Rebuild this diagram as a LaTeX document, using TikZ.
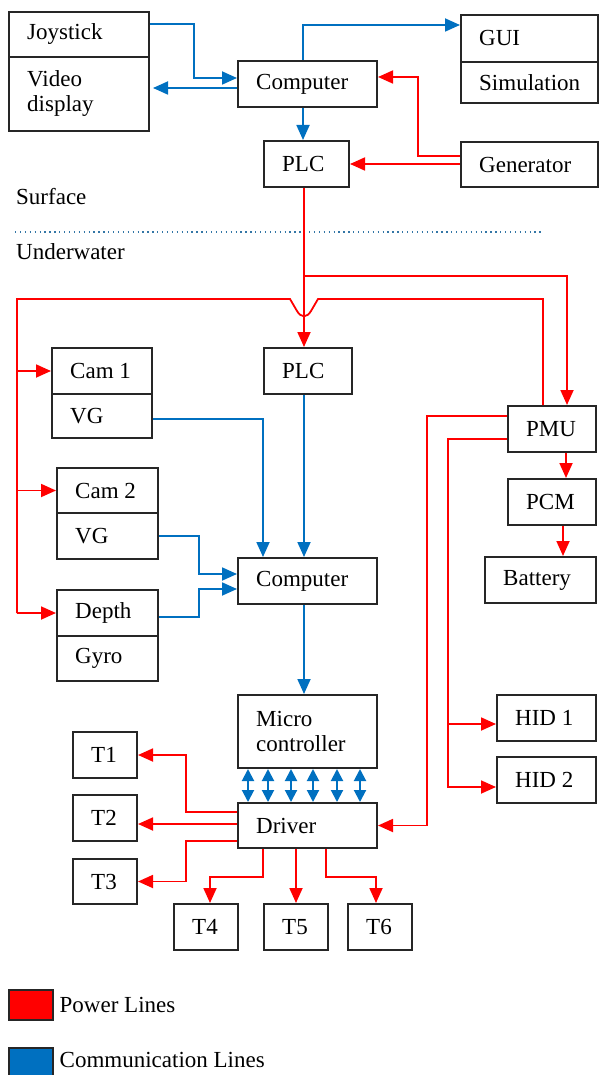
\documentclass[tikz,border=0pt]{standalone}
\usepackage{fontspec}
\setmainfont{Liberation Serif}
\newfontfamily\dserif{Liberation Serif}
\usetikzlibrary{arrows.meta}
\definecolor{cblue}{RGB}{0,112,192}
\definecolor{pred}{RGB}{255,0,0}
\newcommand{\mybox}[6]{%
  \node[box, minimum width=#4pt, minimum height=#5pt] (#1) at (#2,#3) {};
  \node[lbl] (#1-t) at ([xshift=19pt]#1.west) {#6};}
\begin{document}
\begin{tikzpicture}[x=1pt,y=-1pt,
  box/.style={draw=black!85, line width=2pt, anchor=north west, inner sep=0pt},
  lbl/.style={anchor=west, inner sep=0pt, align=left, font=\dserif\fontsize{23}{25}\selectfont},
  comm/.style={draw=cblue, line width=1.8pt, -{Triangle[length=15pt,width=13pt]}},
  power/.style={draw=pred, line width=1.8pt, -{Triangle[length=15pt,width=13pt]}},
  dbl/.style={draw=cblue, line width=2pt, {Triangle[length=12pt,width=12pt]}-{Triangle[length=12pt,width=12pt]}},
]
\useasboundingbox (0,0) rectangle (598,1075);

% ---- surface ----
\mybox{joy}{8}{11}{140}{45}{Joystick}
\mybox{vid}{8}{56}{140}{74}{Video\\display}
\mybox{comp1}{237}{60}{139}{46}{Computer}
\mybox{gui}{460}{14}{137}{47}{GUI}
\mybox{sim}{460}{61}{137}{41}{Simulation}
\mybox{plc1}{263}{140}{85}{46}{PLC}
\mybox{gen}{460}{141}{137}{45}{Generator}

\node[lbl] (surf) at (16,197) {Surface};
\node[lbl] (uw) at (16,252) {Underwater};
\draw[cblue!60!gray, line width=1.3pt, dash pattern=on 1.3pt off 3.6pt] (15,232) -- (544,232);

% ---- underwater ----
\mybox{plc2}{263}{347}{88}{46}{PLC}
\mybox{cam1}{51}{347}{100}{46}{Cam 1}
\mybox{vg1}{51}{393}{100}{44}{VG}
\mybox{cam2}{56}{467}{101}{45}{Cam 2}
\mybox{vg2}{56}{512}{101}{46}{VG}
\mybox{depth}{56}{589}{101}{46}{Depth}
\mybox{gyro}{56}{635}{101}{45}{Gyro}
\mybox{comp2}{237}{557}{139}{46}{Computer}
\mybox{pmu}{507}{405}{88}{46}{PMU}
\mybox{pcm}{507}{478}{88}{46}{PCM}
\mybox{bat}{484}{556}{111}{46}{Battery}
\mybox{hid1}{496}{694}{99}{46}{HID 1}
\mybox{hid2}{496}{756}{99}{46}{HID 2}
\mybox{micro}{237}{694}{139}{73}{Micro\\controller}
\mybox{drv}{237}{802}{139}{45}{Driver}
\mybox{t1}{72}{731}{64}{46}{T1}
\mybox{t2}{72}{794}{64}{46}{T2}
\mybox{t3}{72}{858}{64}{45}{T3}
\mybox{t4}{173}{903}{64}{46}{T4}
\mybox{t5}{263}{903}{64}{46}{T5}
\mybox{t6}{347}{903}{64}{46}{T6}

% ---- legend ----
\node[draw=black!85, line width=1.5pt, fill=pred, minimum width=44pt, minimum height=30pt, anchor=north west, inner sep=0pt] (lp) at (8,989) {};
\node[lbl] (lpt) at ([xshift=6pt]lp.east) {Power Lines};
\node[draw=black!85, line width=1.5pt, fill=cblue, minimum width=44pt, minimum height=32pt, anchor=north west, inner sep=0pt] (lc) at (8,1047) {};
\node[lbl] (lct) at ([xshift=6pt,yshift=4pt]lc.east) {Communication Lines};

% ---- coordinates ----
\coordinate (cx) at ([xshift=66pt]comp1.north west);   % x = 303
\coordinate (pv) at ([xshift=41pt]plc1.south west);     % x = 304
\coordinate (jr) at (304,276);
\coordinate (pm2) at ([xshift=36pt]pmu.north west);
\coordinate (pm1) at ([xshift=60pt]pmu.north west);
\coordinate (lv) at (17,299);
\coordinate (c1v) at ([yshift=-28pt]comp1.north west);
\coordinate (g1) at ([yshift=-15pt]gen.north west);
\coordinate (g2) at ([yshift=-23pt]gen.north west);
\coordinate (d2) at ([yshift=-22pt]drv.north west);
\coordinate (ph) at ([yshift=-34pt]pmu.north west);

% ---- communication lines ----
\draw[comm] ([yshift=-13pt]joy.north east) -- ++(44,0) |- ([yshift=-18pt]comp1.north west);
\draw[comm] (c1v) -- ([xshift=3pt]c1v -| vid.east);
\draw[comm] (cx) |- ([yshift=-11pt]gui.north west);
\draw[comm] (cx |- comp1.south) -- (cx |- plc1.north);
\draw[comm] ([yshift=-3pt]vg1.east) -| ([xshift=26pt]comp2.north west);
\draw[comm] (pv |- plc2.south) -- (pv |- comp2.north);
\draw[comm] (vg2.east) -- ++(40,0) |- ([yshift=-17pt]comp2.north west);
\draw[comm] ([yshift=-4pt]depth.east) -- ++(40,0) |- ([yshift=-32pt]comp2.north west);
\draw[comm] (pv |- comp2.south) -- (pv |- micro.north);
\foreach \dx in {11,31,54,76,100,123}
  \draw[dbl] ([xshift=\dx pt]micro.south west) -- ([xshift=\dx pt]drv.north west);

% ---- power lines ----
\draw[power] (g1) -- ++(-42,0) |- ([yshift=-17pt]comp1.north east);
\draw[power] (g2) -- (g2 -| plc1.east);
\draw[power] (pv) -- (pv |- plc2.north);
\draw[power] (jr) -| (pm1);
\draw[power,-] (pm2) |- (318,299) -- (311,311) .. controls (307,318) and (301,318) .. (297,311) -- (290,299) -- (lv) -- (lv |- depth.west);
\draw[power] (lv |- cam1.west) -- (cam1.west);
\draw[power] (lv |- cam2.west) -- (cam2.west);
\draw[power] (lv |- depth.west) -- (depth.west);
\draw[power] ([xshift=59pt]pmu.south west) -- ([xshift=59pt]pcm.north west);
\draw[power] ([xshift=56pt]pcm.south west) -- ([xshift=79pt]bat.north west);
\draw[power] ([yshift=-11pt]pmu.north west) -- ++(-80,0) |- (drv.east);
\draw[power] (ph) -- ++(-59,0) coordinate (phc) |- ([yshift=-7pt]hid2.west);
\draw[power] ([yshift=-6pt]phc |- hid1.west) -- ([yshift=-6pt]hid1.west);
\draw[power] ([yshift=-10pt]drv.north west) -- ++(-51,0) |- (t1.east);
\draw[power] (d2) -- (d2 -| t2.east);
\draw[power] ([yshift=-39pt]drv.north west) -- ++(-51,0) |- (t3.east);
\draw[power] ([xshift=26pt]drv.south west) -- ++(0,28) -| ([xshift=37pt]t4.north west);
\draw[power] (t5.north |- drv.south) -- (t5.north);
\draw[power] ([xshift=89pt]drv.south west) -- ++(0,28) -| ([xshift=29pt]t6.north west);
\end{tikzpicture}
\end{document}
